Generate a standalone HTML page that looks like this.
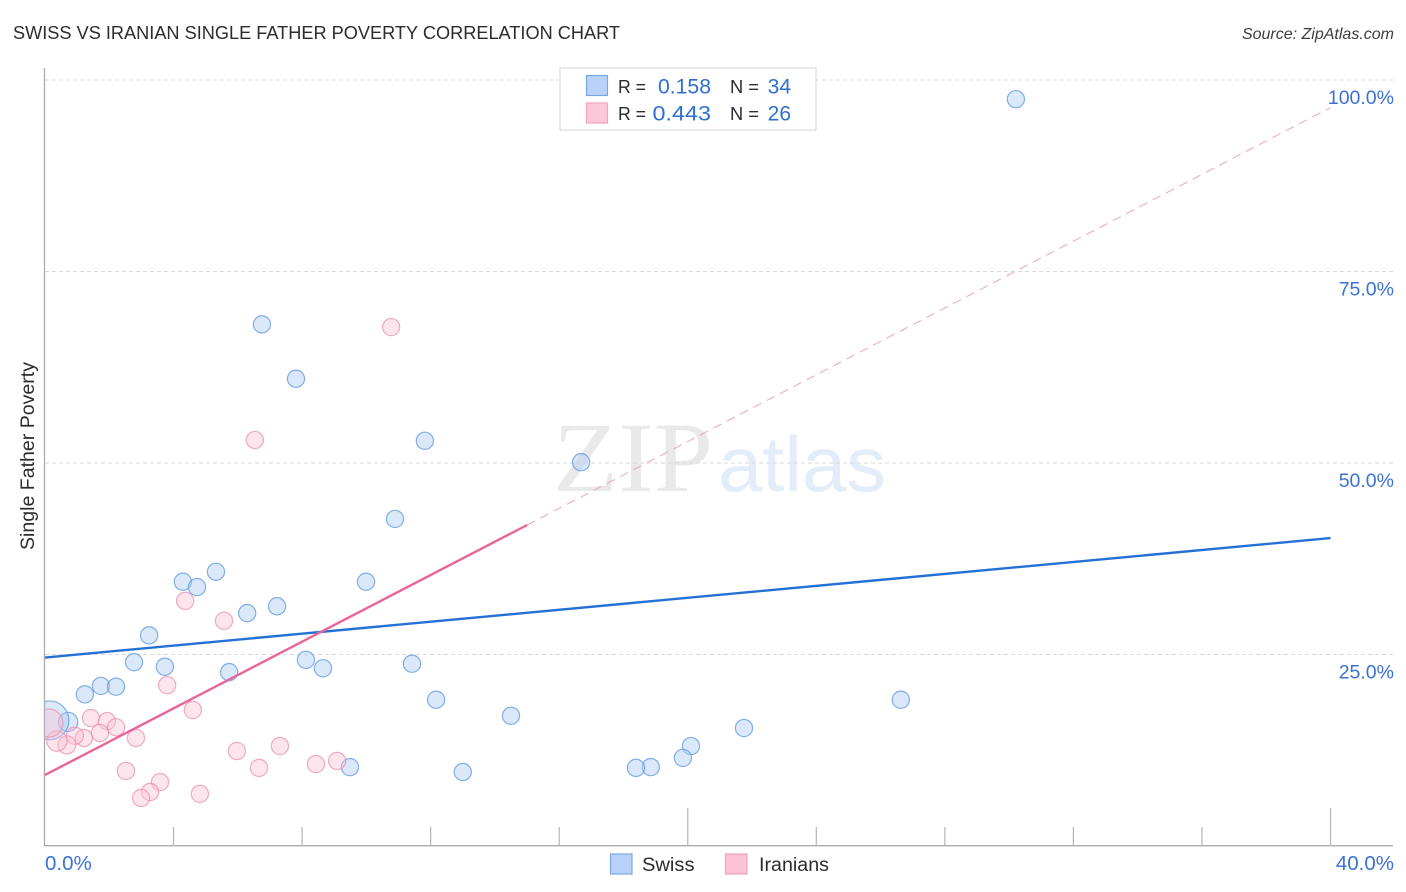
<!DOCTYPE html>
<html>
<head>
<meta charset="utf-8">
<title>Swiss vs Iranian Single Father Poverty Correlation Chart</title>
<style>
html,body{margin:0;padding:0;background:#fff;}
svg{display:block;font-family:"Liberation Sans",sans-serif;}
</style>
</head>
<body>
<svg id="chart" xmlns="http://www.w3.org/2000/svg" width="1406" height="892" viewBox="0 0 1406 892">
  <defs><clipPath id="plot-clip"><rect x="45" y="60" width="1350" height="786"/></clipPath></defs>
  <rect width="1406" height="892" fill="#fff"/>
  <text x="13" y="39" font-size="18.5" fill="#2b2b33" textLength="607" lengthAdjust="spacingAndGlyphs">SWISS VS IRANIAN SINGLE FATHER POVERTY CORRELATION CHART</text>
  <text x="1394" y="39" font-size="16" font-style="italic" fill="#3c3c44" text-anchor="end">Source: ZipAtlas.com</text>
  <text x="34" y="456" font-size="19" fill="#2b2b33" text-anchor="middle" transform="rotate(-90 34 456)" textLength="188" lengthAdjust="spacingAndGlyphs">Single Father Poverty</text>

  <g>
    <text x="553" y="491" font-family="'Liberation Serif',serif" font-size="100" fill="#e9e9ea" textLength="160" lengthAdjust="spacingAndGlyphs">ZIP</text>
    <text x="718" y="491" font-size="78" fill="#e3ecf9" textLength="168" lengthAdjust="spacingAndGlyphs">atlas</text>
  </g>

  <g id="grid"></g>
  <g id="axes"></g>
  <g id="marks" clip-path="url(#plot-clip)"></g>
  <g id="lines"></g>
  <g id="tick-labels"></g>

  <g>
    <rect x="560" y="68" width="256" height="62" fill="#fff" stroke="#dcdcdc" stroke-width="1.2"/>
    <rect x="586.5" y="75.5" width="21" height="20" fill="#b8d3f7" stroke="#7aa6e4" stroke-width="1.2"/>
    <rect x="586.5" y="103" width="21" height="20" fill="#fcc8d9" stroke="#f2a3bb" stroke-width="1.2"/>
    <text x="618" y="93" font-size="18.5" fill="#2b2b33" textLength="28" lengthAdjust="spacingAndGlyphs">R =</text>
    <text x="658" y="93.5" font-size="21" fill="#2f6fd0" textLength="53" lengthAdjust="spacingAndGlyphs">0.158</text>
    <text x="730" y="93" font-size="18.5" fill="#2b2b33" textLength="29" lengthAdjust="spacingAndGlyphs">N =</text>
    <text x="791" y="93.5" font-size="21" fill="#2f6fd0" text-anchor="end">34</text>
    <text x="618" y="120" font-size="18.5" fill="#2b2b33" textLength="28" lengthAdjust="spacingAndGlyphs">R =</text>
    <text x="652.5" y="120.5" font-size="21" fill="#2f6fd0" textLength="58.5" lengthAdjust="spacingAndGlyphs">0.443</text>
    <text x="730" y="120" font-size="18.5" fill="#2b2b33" textLength="29" lengthAdjust="spacingAndGlyphs">N =</text>
    <text x="791" y="120.5" font-size="21" fill="#2f6fd0" text-anchor="end">26</text>
  </g>

  <g>
    <rect x="610.5" y="854" width="21.5" height="20" fill="#b8d3f7" stroke="#7aa6e4" stroke-width="1.2"/>
    <text x="642" y="871" font-size="19" fill="#2b2b33" textLength="52.5" lengthAdjust="spacingAndGlyphs">Swiss</text>
    <rect x="725.5" y="854" width="21.5" height="20" fill="#fcc2d6" stroke="#f0a3bb" stroke-width="1.2"/>
    <text x="759" y="871" font-size="19" fill="#2b2b33" textLength="70" lengthAdjust="spacingAndGlyphs">Iranians</text>
  </g>
</svg>
<script>
const xTickValues = [0, 4, 8, 12, 16, 20, 24, 28, 32, 36, 40];
const xMajorTicks = [20, 40];
const xTickLabels = ["0.0%", "40.0%"];
const yTickValues = [25, 50, 75, 100];
const yTickLabels = ["25.0%", "50.0%", "75.0%", "100.0%"];

const swissX = [30.21, 6.75, 7.81, 11.82, 16.68, 10.89, 9.99, 5.32, 4.29, 4.73, 6.29, 7.22, 3.24, 2.77, 3.73, 5.73, 8.12, 8.65, 11.42, 1.24, 1.74, 2.21, 12.17, 14.5, 26.63, 21.75, 20.1, 19.85, 18.85, 18.39, 13.0, 9.49, 0.72, 0.14];
const swissY = [97.5, 68.1, 61.0, 52.9, 50.1, 42.7, 34.5, 35.8, 34.5, 33.8, 30.4, 31.3, 27.5, 24.0, 23.4, 22.7, 24.3, 23.2, 23.8, 19.8, 20.9, 20.8, 19.1, 17.0, 19.1, 15.4, 13.05, 11.5, 10.3, 10.2, 9.66, 10.3, 16.2, 16.4];
const swissWeight = [1, 1, 1, 1, 1, 1, 1, 1, 1, 1, 1, 1, 1, 1, 1, 1, 1, 1, 1, 1, 1, 1, 1, 1, 1, 1, 1, 1, 1, 1, 1, 1, 1.25, 5.1];

const iranianX = [10.77, 6.53, 4.36, 5.57, 3.8, 4.6, 1.43, 1.93, 2.21, 2.83, 1.71, 1.21, 0.93, 0.68, 0.37, 0.12, 5.97, 7.31, 6.66, 8.43, 9.09, 2.52, 3.58, 3.27, 2.99, 4.82];
const iranianY = [67.75, 53.0, 32.0, 29.4, 21.0, 17.75, 16.7, 16.3, 15.5, 14.1, 14.75, 14.1, 14.4, 13.2, 13.7, 16.05, 12.4, 13.05, 10.2, 10.7, 11.1, 9.8, 8.35, 7.05, 6.27, 6.8];
const iranianWeight = [1, 1, 1, 1, 1, 1, 1, 1, 1, 1, 1, 1, 1, 1.1, 1.4, 2.65, 1, 1, 1, 1, 1, 1, 1, 1, 1, 1];

const swissTrendX = [0, 40];
const swissTrendY = [24.6, 40.2];
const iranianSolidX = [0, 15];
const iranianSolidY = [9.27, 41.9];
const iranianDashX = [15, 40];
const iranianDashY = [41.9, 96.4];

const NS = "http://www.w3.org/2000/svg";
const sx = v => 45 + v / 40 * 1285.5;
const sy = v => 846 - v / 100 * 766;
const sr = w => 8.6 * Math.sqrt(w);

function make(parent, tag, attrs) {
  const el = document.createElementNS(NS, tag);
  for (const k in attrs) el.setAttribute(k, attrs[k]);
  document.getElementById(parent).appendChild(el);
  return el;
}

yTickValues.forEach(function (v) {
  const el = make("grid", "line", {x1: 45, x2: 1393, y1: sy(v), y2: sy(v), stroke: "#d9d9d9", "stroke-width": 1, "stroke-dasharray": "4 3"});
  
  
});

const yAxis = make("axes", "line", {x1: 44.5, x2: 44.5, y1: 68, y2: 846, stroke: "#ababab", "stroke-width": 1.3});


const xAxis = make("axes", "line", {x1: 44, x2: 1393, y1: 845.7, y2: 845.7, stroke: "#ababab", "stroke-width": 1.3});



xTickValues.forEach(function (v) {
  if (v === 0) return;
  const top = xMajorTicks.includes(v) ? 808 : 827;
  const el = make("axes", "line", {x1: sx(v), x2: sx(v), y1: top, y2: 846, stroke: "#b5b5b5", "stroke-width": 1.2});
  
  
});

function drawPoints(xs, ys, ws, fill, stroke, name) {
  xs.forEach(function (v, i) {
    const el = make("marks", "circle", {cx: sx(v), cy: sy(ys[i]), r: sr(ws[i]), fill: fill, "fill-opacity": 0.42, stroke: stroke, "stroke-opacity": 0.75, "stroke-width": 1.2});
    
    
  });
}
drawPoints(swissX, swissY, swissWeight, "#a9c9f2", "#5b97e0", "point-swiss");
drawPoints(iranianX, iranianY, iranianWeight, "#fac0d3", "#ec8fae", "point-iranians");

const swissLine = make("lines", "line", {x1: sx(swissTrendX[0]), x2: sx(swissTrendX[1]), y1: sy(swissTrendY[0]), y2: sy(swissTrendY[1]), stroke: "#2471d6", "stroke-width": 2.4});


const iranianLine = make("lines", "line", {x1: sx(iranianSolidX[0]), x2: sx(iranianSolidX[1]), y1: sy(iranianSolidY[0]), y2: sy(iranianSolidY[1]), stroke: "#e9669a", "stroke-width": 2.4});


const iranianDash = make("lines", "line", {x1: sx(iranianDashX[0]), x2: sx(iranianDashX[1]), y1: sy(iranianDashY[0]), y2: sy(iranianDashY[1]), stroke: "#eba4bd", "stroke-width": 1, "stroke-dasharray": "9 6"});



yTickValues.forEach(function (v, i) {
  const el = make("tick-labels", "text", {x: 1394, y: sy(v) + 24, "font-size": 19.5, fill: "#3a72d4", "text-anchor": "end"});
  el.textContent = yTickLabels[i];
  
  
});

const xLabel0 = make("tick-labels", "text", {x: 45, y: 870, "font-size": 20.5, fill: "#3a72d4"});
xLabel0.textContent = xTickLabels[0];


const xLabel1 = make("tick-labels", "text", {x: 1394, y: 870, "font-size": 20.5, fill: "#3a72d4", "text-anchor": "end"});
xLabel1.textContent = xTickLabels[1];


</script>
</body>
</html>
